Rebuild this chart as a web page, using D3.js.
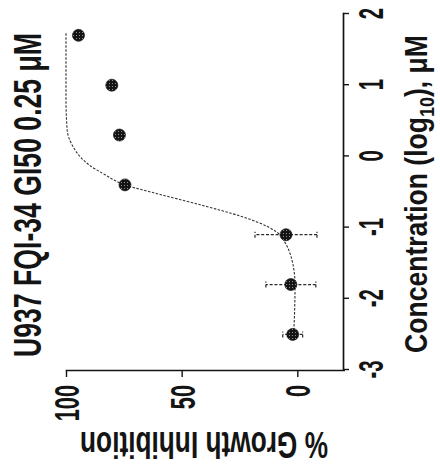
<!DOCTYPE html>
<html>
<head>
<meta charset="utf-8">
<script src="https://cdn.jsdelivr.net/npm/d3@7"></script>
<style>
  body { margin: 0; background: #fff; }
  svg { display: block; }
</style>
</head>
<body>
<svg id="chart" width="440" height="469"></svg>
<script>
// Measured growth inhibition of U937 cells versus FQI-34 concentration
const logConc    = [-2.5, -1.8, -1.1, -0.4, 0.3, 1.0, 1.7];
const inhibition = [2.0, 2.8, 4.9, 74.5, 76.9, 80.2, 94.6];
const errorSD    = [4.3, 10.8, 13.4, 0, 0, 0, 0];

// Dose-response fit, sampled along the drawn curve
const fitLogConc    = [-2.5, -2.2, -1.8, -1.55, -1.36, -1.2, -1.06, -0.92, -0.84, -0.68, -0.52, -0.4, -0.25, -0.12, 0.0, 0.14, 0.37, 0.8, 1.73];
const fitInhibition = [1.6, 1.2, 1.0, 1.7, 3.2, 5.5, 9.0, 17.5, 24.5, 42, 61, 74.5, 83.5, 90, 94, 97, 99.5, 100, 100];

const xTicks = [-3, -2, -1, 0, 1, 2];
const yTicks = [0, 50, 100];
const titleText = "U937 FQI-34 GI50 0.25 \u03BCM";
const yLabelText = "% Growth Inhibition";

const FONT = "'Liberation Sans', Arial, Helvetica, sans-serif";
const INK = "#141414";

const svg = d3.select("#chart");

// Halftone-style fill for the markers
const defs = svg.append("defs");
const pat = defs.append("pattern")
  .attr("id", "dotfill").attr("patternUnits", "userSpaceOnUse")
  .attr("width", 3).attr("height", 3);
pat.append("rect").attr("width", 3).attr("height", 3).attr("fill", "#141414");
pat.append("circle").attr("cx", 1.5).attr("cy", 1.5).attr("r", 0.55).attr("fill", "#fff").attr("opacity", 0.6);

// The figure is laid out as a normal plot and then turned a quarter turn
const g = svg.append("g").attr("transform", "translate(0,469) rotate(-90)");

const x = d3.scaleLinear().domain([-3, 2]).range([99, 455]);
const y = d3.scaleLinear().domain([-20, 100]).range([343.6, 66]);

// Helper: bold condensed text squeezed to a given run length
function condensedText(parent, opts) {
  const wrap = parent.append("g")
    .attr("transform", `translate(${opts.x},${opts.y}) rotate(${opts.rotate || 0})`);
  const t = wrap.append("text")
    .attr("text-anchor", "middle")
    .attr("font-family", FONT)
    .attr("font-weight", "bold")
    .attr("font-size", opts.size)
    .attr("fill", INK);
  if (opts.build) opts.build(t); else t.text(opts.text);
  const w = t.node().getBBox().width;
  t.attr("transform", `scale(${opts.length / w},1)`);
  return t;
}

// X axis (concentration)
const xAxis = g.append("g")
  .attr("transform", "translate(0,343)")
  .call(d3.axisBottom(x).tickValues(xTicks).tickFormat(d => String(d)).tickSize(6).tickSizeOuter(0));
// Y axis (% inhibition)
const yAxis = g.append("g")
  .attr("transform", "translate(98,0)")
  .call(d3.axisLeft(y).tickValues(yTicks).tickFormat(d => String(d)).tickSize(6).tickSizeOuter(0));

[xAxis, yAxis].forEach(ax => {
  ax.attr("font-family", FONT).attr("font-size", 35).attr("font-weight", "bold");
  ax.select(".domain").attr("stroke", INK).attr("stroke-width", 1.7).attr("stroke-linecap", "square");
  ax.selectAll(".tick line").attr("stroke", INK).attr("stroke-width", 1.4);
  ax.selectAll(".tick text").attr("fill", INK);
});
xAxis.selectAll(".tick text")
  .attr("y", 0).attr("dy", 0)
  .attr("transform", "translate(0,40) scale(0.58,1)");
yAxis.selectAll(".tick text")
  .attr("x", 0).attr("dy", 0)
  .attr("text-anchor", "end")
  .attr("transform", "translate(-14,12.5) scale(0.62,1)");

// Fitted curve
const line = d3.line()
  .x(d => x(d[0])).y(d => y(d[1]))
  .curve(d3.curveMonotoneX);
g.append("path")
  .datum(d3.zip(fitLogConc, fitInhibition))
  .attr("d", line)
  .attr("fill", "none")
  .attr("stroke", "#333")
  .attr("stroke-width", 1.1)
  .attr("stroke-dasharray", "2.5,1.5");

// Error bars
const pts = logConc.map((c, i) => ({ c, v: inhibition[i], e: errorSD[i] }));
const eb = g.append("g")
  .attr("stroke", "#2a2a2a").attr("stroke-width", 1.2)
  .attr("stroke-dasharray", "3,1.8").attr("fill", "none");
pts.filter(d => d.e > 0).forEach(d => {
  eb.append("line")
    .attr("x1", x(d.c)).attr("x2", x(d.c))
    .attr("y1", y(d.v - d.e)).attr("y2", y(d.v + d.e));
  [d.v - d.e, d.v + d.e].forEach(val => {
    eb.append("line")
      .attr("stroke-dasharray", null)
      .attr("x1", x(d.c) - 3).attr("x2", x(d.c) + 3)
      .attr("y1", y(val)).attr("y2", y(val));
  });
});

// Data points
g.append("g").selectAll("circle")
  .data(pts)
  .join("circle")
  .attr("cx", d => x(d.c))
  .attr("cy", d => y(d.v))
  .attr("r", 6)
  .attr("fill", "url(#dotfill)")
  .attr("stroke", "#141414")
  .attr("stroke-width", 0.7);

// Title
condensedText(g, { x: 274, y: 41, size: 38, length: 324, text: titleText });

// X axis title with subscript
condensedText(g, {
  x: 275, y: 427, size: 31, length: 318,
  build: t => {
    t.append("tspan").text("Concentration (log");
    t.append("tspan").attr("font-size", 21).attr("dy", 7).text("10");
    t.append("tspan").attr("dy", -7).text("), \u03BCM");
  }
});

// Y axis title
condensedText(g, { x: 37, y: 204, rotate: -90, size: 37, length: 248, text: yLabelText });
</script>
</body>
</html>
